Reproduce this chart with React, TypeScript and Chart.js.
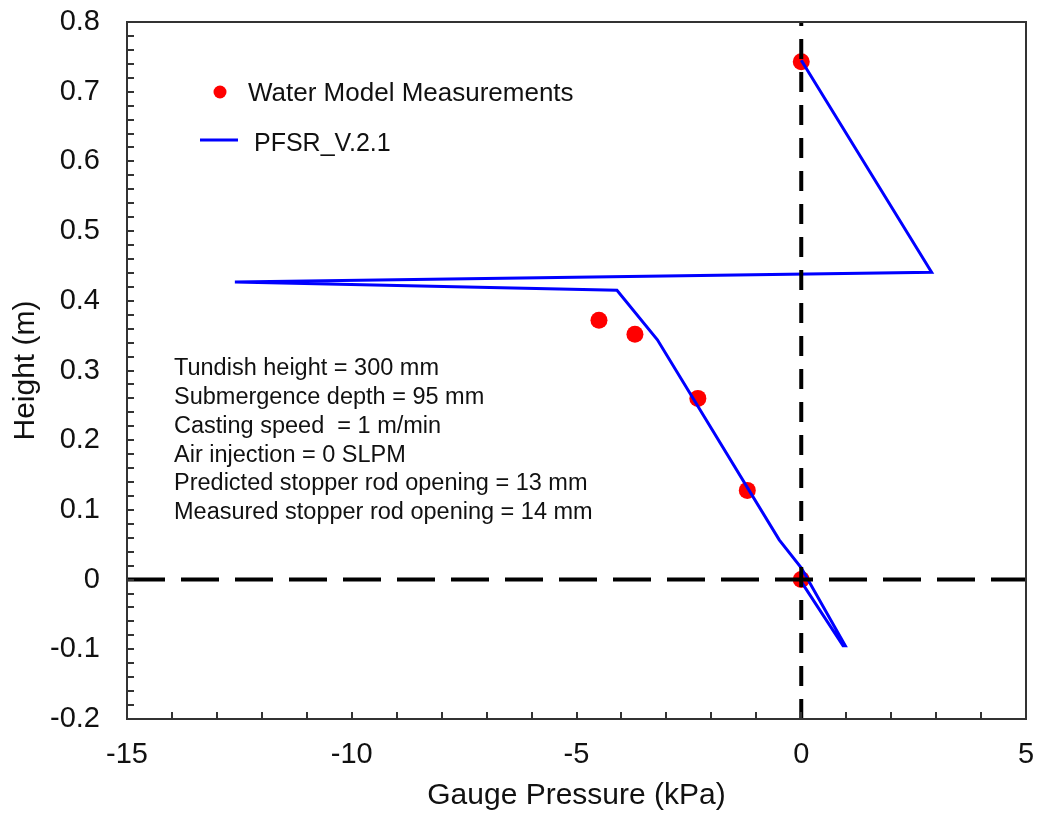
import { useEffect, useRef } from 'react';
import { Chart, registerables } from 'chart.js';

Chart.register(...registerables);

// Water model pressure readings (kPa) against height (m)
const measuredPressure = [0, -4.5, -3.7, -2.3, -1.2, 0];
const measuredHeight = [0.743, 0.372, 0.352, 0.26, 0.128, 0.0];

// PFSR_V.2.1 predicted pressure profile
const pfsrPressure = [0, 2.9, -12.6, -4.1, -3.2, -0.49, 0.0, 0.98, 0.93, -0.03];
const pfsrHeight = [0.745, 0.441, 0.427, 0.415, 0.344, 0.057, 0.017, -0.095, -0.095, 0.0];

// Axis ticks
const xTicks = [-15, -10, -5, 0, 5];
const yTicks = [-0.2, -0.1, 0, 0.1, 0.2, 0.3, 0.4, 0.5, 0.6, 0.7, 0.8];
const xMinorCount = 20; // one tick per kPa
const yMinorCount = 50; // one tick per 0.02 m

const legendLabels = ['Water Model Measurements', 'PFSR_V.2.1'];
const notes = [
  'Tundish height = 300 mm',
  'Submergence depth = 95 mm',
  'Casting speed  = 1 m/min',
  'Air injection = 0 SLPM',
  'Predicted stopper rod opening = 13 mm',
  'Measured stopper rod opening = 14 mm',
];

const FONT = '"Liberation Sans", Arial, sans-serif';

const framePlugin = {
  id: 'frameAndNotes',
  afterDraw(chart: any) {
    const { ctx, chartArea, scales } = chart;
    const { left, right, top, bottom } = chartArea;
    const xs = scales.x;
    const ys = scales.y;
    ctx.save();
    ctx.strokeStyle = '#333333';
    ctx.lineWidth = 2;
    ctx.strokeRect(left, top, right - left, bottom - top);

    // inward tick marks
    const tickLen = 7;
    const xMin = xs.min;
    const xStep = (xs.max - xs.min) / xMinorCount;
    for (let i = 1; i < xMinorCount; i++) {
      const px = Math.round(xs.getPixelForValue(xMin + i * xStep));
      ctx.beginPath();
      ctx.moveTo(px, bottom);
      ctx.lineTo(px, bottom - tickLen);
      ctx.stroke();
    }
    const yMin = ys.min;
    const yStep = (ys.max - ys.min) / yMinorCount;
    for (let i = 1; i < yMinorCount; i++) {
      const py = Math.round(ys.getPixelForValue(yMin + i * yStep));
      ctx.beginPath();
      ctx.moveTo(left, py);
      ctx.lineTo(left + tickLen, py);
      ctx.stroke();
    }

    // legend
    ctx.fillStyle = '#ff0000';
    ctx.beginPath();
    ctx.arc(220, 92, 6.5, 0, Math.PI * 2);
    ctx.fill();
    ctx.strokeStyle = '#0000ff';
    ctx.lineWidth = 3;
    ctx.beginPath();
    ctx.moveTo(200, 140);
    ctx.lineTo(238, 140);
    ctx.stroke();
    ctx.fillStyle = '#111111';
    ctx.textBaseline = 'middle';
    ctx.textAlign = 'left';
    ctx.font = `26px ${FONT}`;
    ctx.fillText(legendLabels[0], 248, 94);
    ctx.font = `25px ${FONT}`;
    ctx.fillText(legendLabels[1], 254, 144);

    // run conditions
    ctx.font = `23.5px ${FONT}`;
    notes.forEach((line, i) => {
      ctx.fillText(line, 174, 369 + i * 28.7);
    });
    ctx.restore();
  },
};

export default function App() {
  const canvasRef = useRef<HTMLCanvasElement | null>(null);

  useEffect(() => {
    const canvas = canvasRef.current;
    if (!canvas) return;
    const measured = measuredPressure.map((x, i) => ({ x, y: measuredHeight[i] }));
    const pfsr = pfsrPressure.map((x, i) => ({ x, y: pfsrHeight[i] }));

    const chart = new Chart(canvas, {
      type: 'scatter',
      data: {
        datasets: [
          {
            label: 'zero height',
            data: [{ x: xTicks[0], y: 0 }, { x: xTicks[xTicks.length - 1], y: 0 }],
            showLine: true,
            borderColor: '#000000',
            borderWidth: 4,
            borderDash: [38, 16],
            pointRadius: 0,
          },
          {
            label: 'zero pressure',
            data: [{ x: 0, y: yTicks[0] }, { x: 0, y: yTicks[yTicks.length - 1] }],
            showLine: true,
            borderColor: '#000000',
            borderWidth: 4,
            borderDash: [20, 13],
            pointRadius: 0,
          },
          {
            label: legendLabels[1],
            data: pfsr,
            showLine: true,
            borderColor: '#0000ff',
            borderWidth: 3,
            pointRadius: 0,
            borderJoinStyle: 'miter',
          },
          {
            label: legendLabels[0],
            data: measured,
            showLine: false,
            backgroundColor: '#ff0000',
            borderColor: '#ff0000',
            pointRadius: 8.5,
            borderWidth: 0,
          },
        ],
      },
      options: {
        animation: false,
        responsive: false,
        devicePixelRatio: 1,
        layout: { padding: { top: 22, right: 15, left: 0, bottom: 0 } },
        plugins: {
          legend: { display: false },
          tooltip: { enabled: false },
        },
        scales: {
          x: {
            type: 'linear',
            min: xTicks[0],
            max: xTicks[xTicks.length - 1],
            grid: { display: false, drawTicks: false },
            border: { display: false },
            afterBuildTicks: (scale: any) => {
              scale.ticks = xTicks.map((value) => ({ value }));
            },
            afterFit: (scale: any) => {
              scale.height = 97;
              scale.paddingLeft = 0;
              scale.paddingRight = 0;
            },
            ticks: {
              font: { family: FONT, size: 29 },
              color: '#111111',
              padding: 19,
              maxRotation: 0,
              callback: (v: any) => String(v),
            },
            title: {
              display: true,
              text: 'Gauge Pressure (kPa)',
              font: { family: FONT, size: 30 },
              color: '#111111',
              padding: { top: 0, bottom: 2 },
            },
          },
          y: {
            type: 'linear',
            min: yTicks[0],
            max: yTicks[yTicks.length - 1],
            grid: { display: false, drawTicks: false },
            border: { display: false },
            afterBuildTicks: (scale: any) => {
              scale.ticks = yTicks.map((value) => ({ value }));
            },
            afterFit: (scale: any) => {
              scale.width = 127;
              scale.paddingTop = 0;
              scale.paddingBottom = 0;
            },
            ticks: {
              font: { family: FONT, size: 29 },
              color: '#111111',
              padding: 27,
              callback: (v: any) => (Math.abs(v) < 1e-9 ? '0' : Number(v).toFixed(1)),
            },
            title: {
              display: true,
              text: 'Height (m)',
              font: { family: FONT, size: 30 },
              color: '#111111',
              padding: { top: 8, bottom: 0 },
            },
          },
        },
      },
      plugins: [framePlugin],
    } as any);

    return () => chart.destroy();
  }, []);

  return (
    <div style={{ position: 'absolute', left: 0, top: 0, width: 1041, height: 816, background: '#ffffff' }}>
      <canvas ref={canvasRef} width={1041} height={816} style={{ display: 'block' }} />
    </div>
  );
}
